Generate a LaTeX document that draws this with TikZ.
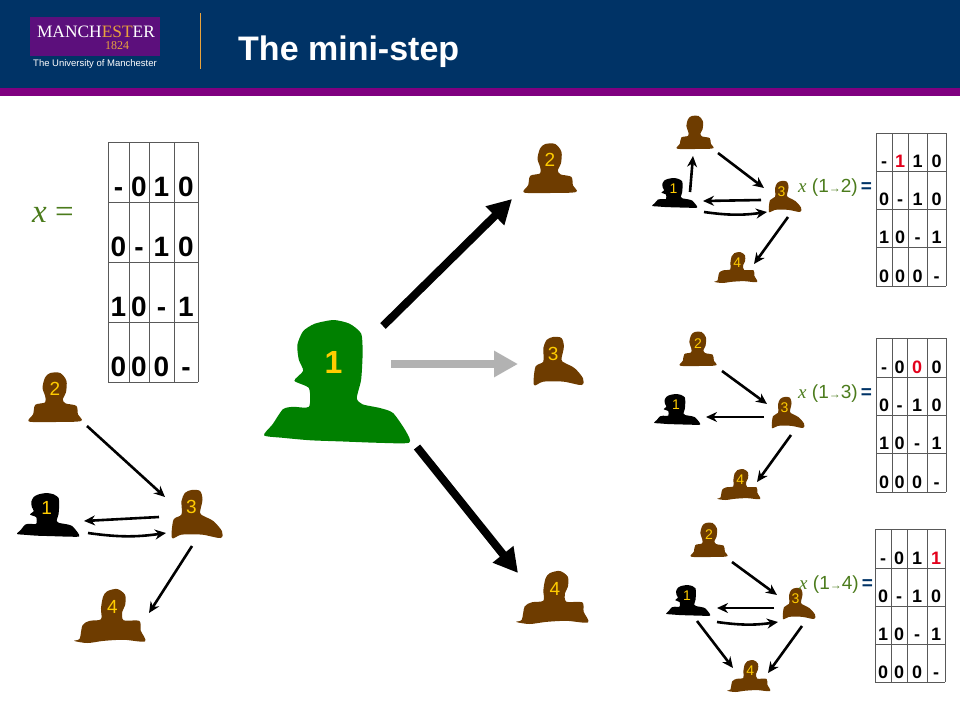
\documentclass[tikz,border=0pt]{standalone}
\usepackage{fontspec}
\setmainfont{Liberation Sans}
\newfontfamily\timesfont{Liberation Serif}
\usetikzlibrary{arrows.meta}
\usetikzlibrary{positioning}

\definecolor{navy}{HTML}{003366}
\definecolor{band}{HTML}{800080}
\definecolor{crest}{HTML}{5C0F7C}
\definecolor{gold}{HTML}{E8A33D}
\definecolor{digit}{HTML}{FFCC00}
\definecolor{skin}{HTML}{6E3C00}
\definecolor{leaf}{HTML}{008000}
\definecolor{olive}{HTML}{4B7B1C}
\definecolor{mark}{HTML}{E3001B}

\tikzset{
    thin arrow/.style={-{Stealth[length=11pt,width=10pt]}, line width=2.6pt},
    big arrow/.style={-{Triangle[length=24pt,width=25pt]}, line width=8pt},
    grid line/.style={draw=black!65, line width=1pt},
    cell/.style={anchor=base, inner sep=0pt, font=\bfseries},
    big digit/.style={text=digit, font=\bfseries\fontsize{32}{32}\selectfont},
    mid digit/.style={text=digit, font=\fontsize{19}{19}\selectfont},
    small digit/.style={text=digit, font=\fontsize{14}{14}\selectfont},
    rate/.style={anchor=base west, inner sep=0pt, text=olive}
}

% outlines on a 100 by 100 box, y going down
\def\shapeA{plot[smooth cycle,tension=.5] coordinates {(41,0) (60,0) (72,16) (71,40) (65,53) (70,62) (91,67) (94,84) (100,98) (50,100) (0,99) (8,84) (12,65) (31,60) (31,47) (26,30) (31,9)} (50,33) coordinate (head)}
\def\shapeB{plot[smooth cycle,tension=.5] coordinates {(39,0) (56,2) (61,20) (56,47) (63,54) (83,65) (100,86) (97,100) (60,93) (19,93) (0,100) (3,62) (19,51) (19,23) (26,6)} (39,35) coordinate (head)}
\def\shapeC{plot[smooth cycle,tension=.5] coordinates {(47,4) (61,0) (72,11) (72,30) (68,42) (70,58) (92,59) (94,77) (100,97) (70,94) (42,96) (19,100) (0,96) (8,92) (12,67) (22,59) (38,56) (38,36) (41,14)} (54,34) coordinate (head)}
\def\shapeD{plot[smooth cycle,tension=.4] coordinates {(48,0) (59,3) (67,11) (68,27) (67,48) (64,63) (68,68) (80,71) (89,75) (98,90) (100,99) (78,99) (55,98) (32,97) (13,95) (0,93) (6,84) (13,72) (20,70) (31,70) (31,55) (21,49) (27,41) (24,32) (23,20) (27,9) (35,3)} (48,34) coordinate (head)}

% name, outline, left, top, width, height, colour, digit style, digit
\newcommand{\person}[9]{
    \begin{scope}[shift={(#3,#4)}, xscale=#5/100, yscale=#6/100]
        \fill[#7] #2;
    \end{scope}
    \node [anchor=north west, inner sep=0pt, outer sep=0pt,
        minimum width=#5pt, minimum height=#6pt] (#1) at (#3,#4) {};
    \node [#8] (#1-digit) at (head) {#9};
}

% name, x edges, y edges, font size, rows
\newcommand{\gridtab}[5]{
    \pgfmathsetmacro{\gridtop}{{#3}[0]}
    \pgfmathsetmacro{\gridbottom}{{#3}[4]}
    \pgfmathsetmacro{\gridleft}{{#2}[0]}
    \pgfmathsetmacro{\gridright}{{#2}[4]}
    \foreach \xv in {#2} \draw[grid line] (\xv,\gridtop) -- (\xv,\gridbottom);
    \foreach \yv in {#3} \draw[grid line] (\gridleft,\yv) -- (\gridright,\yv);
    \foreach \row [count=\j] in {#5} {
        \foreach \entry [count=\i] in \row {
            \pgfmathsetmacro{\xa}{{#2}[\i-1]}
            \pgfmathsetmacro{\xb}{{#2}[\i]}
            \pgfmathsetmacro{\ya}{{#3}[\j-1]}
            \pgfmathsetmacro{\yb}{{#3}[\j]}
            \pgfmathsetmacro{\cx}{(\xa+\xb)/2}
            \pgfmathsetmacro{\cy}{\yb-0.09*(\yb-\ya)}
            \node [cell, font=\bfseries\fontsize{#4}{#4}\selectfont] (#1-\j-\i) at (\cx,\cy) {\entry};
        }
    }
}

\newcommand{\ratelabel}[1]{{\timesfont\itshape x} (1{\fontsize{12}{12}\selectfont →}#1)\,\textcolor{navy}{\bfseries =}}

\begin{document}
\begin{tikzpicture}[x=1pt, y=-1pt]
    \useasboundingbox (0,0) rectangle (960,720);

    % header
    \fill[navy] (0,0) rectangle (960,88);
    \fill[band] (0,88) rectangle (960,96);
    \node [draw=none, fill=crest, anchor=north west, inner sep=0pt, minimum width=130pt, minimum height=39pt] (logo) at (30,17) {};
    \node [anchor=base, inner sep=0pt, text=white, font=\timesfont\fontsize{17.4}{17.4}\selectfont] (manchester) at (96,37) {MANCH\textcolor{gold}{EST}ER};
    \node [anchor=base, inner sep=0pt, text=gold, font=\timesfont\fontsize{12}{12}\selectfont] (year) at (117,49) {1824};
    \node [anchor=base west, inner sep=0pt, text=white, font=\fontsize{9.5}{9.5}\selectfont] (university) at (33,66) {The University of Manchester};
    \draw[gold, line width=.8pt] (200,13) -- (200,69);
    \node [anchor=base west, inner sep=0pt, text=white, font=\bfseries\fontsize{34}{34}\selectfont] (title) at (238,60) {The mini-step};

    % left matrix
    \node [anchor=base west, inner sep=0pt, text=olive, font=\timesfont\fontsize{33}{33}\selectfont] (xeq) at (32,222) {\textit{x} =};
    \gridtab{mx}{108,129,149,174,198}{142,202,262,322,382}{28}{{-,0,1,0},{0,-,1,0},{1,0,-,1},{0,0,0,-}}

    % left network
    \person{l1}{\shapeD}{17}{493}{62}{44}{black}{mid digit}{1}
    \person{l2}{\shapeA}{29}{373}{52}{49}{skin}{mid digit}{2}
    \person{l3}{\shapeB}{172}{490}{50}{48}{skin}{mid digit}{3}
    \person{l4}{\shapeC}{74}{589}{71}{54}{skin}{mid digit}{4}
    \draw[thin arrow] ([shift={(6,4)}]l2.south east) -- ([shift={(-7,7)}]l3.north west);
    \draw[thin arrow] ([shift={(-13,3)}]l3.west) -- ([shift={(5,6)}]l1.east);
    \draw[thin arrow] ([shift={(9,18)}]l1.east) to[bend right=8] ([shift={(-6,19)}]l3.west);
    \draw[thin arrow] ([shift={(-5,8)}]l3.south) -- ([shift={(4,24)}]l4.north east);

    % middle
    \person{m1}{\shapeD}{264}{320}{145}{124}{leaf}{big digit}{1}
    \person{m2}{\shapeA}{524}{144}{52}{49}{skin}{mid digit}{2}
    \person{m3}{\shapeB}{534}{337}{49}{48}{skin}{mid digit}{3}
    \person{m4}{\shapeC}{516}{571}{72}{53}{skin}{mid digit}{4}
    \draw[big arrow] ([shift={(-26,6)}]m1.north east) -- ([shift={(-12,6)}]m2.south west);
    \draw[big arrow, color=black!30] ([shift={(-18,-18)}]m1.east) -- ([shift={(-16,3)}]m3.west);
    \draw[big arrow] ([shift={(8,3)}]m1.south east) -- ([shift={(2,2)}]m4.north west);

    % top network
    \person{t1}{\shapeD}{652}{178}{45}{30}{black}{small digit}{1}
    \person{t2}{\shapeA}{677}{116}{36}{33}{skin}{small digit}{}
    \person{t3}{\shapeB}{769}{181}{32}{31}{skin}{small digit}{3}
    \person{t4}{\shapeC}{714}{252}{43}{31}{skin}{small digit}{4}
    \draw[thin arrow] ([shift={(-7,14)}]t1.north east) -- ([shift={(-2,7)}]t2.south);
    \draw[thin arrow] ([shift={(5,4)}]t2.south east) -- ([shift={(-5,7)}]t3.north west);
    \draw[thin arrow] ([shift={(-8,3.5)}]t3.west) -- ([shift={(6,8)}]t1.east);
    \draw[thin arrow] ([shift={(7,4)}]t1.south east) to[bend right=8] ([shift={(-2,0)}]t3.south west);
    \draw[thin arrow] ([shift={(3,5)}]t3.south) -- ([shift={(-3,12)}]t4.north east);
    \node [rate, font=\fontsize{19}{19}\selectfont] (rt) at (798,192) {\ratelabel{2}};
    \gridtab{tt}{876,892,908,927,946}{133,171,209,247,286}{18}{{-,\textcolor{mark}{1},1,0},{0,-,1,0},{1,0,-,1},{0,0,0,-}}

    % centre network
    \person{c1}{\shapeD}{654}{394}{46}{31}{black}{small digit}{1}
    \person{c2}{\shapeA}{680}{332}{36}{34}{skin}{small digit}{2}
    \person{c3}{\shapeB}{772}{397}{32}{31}{skin}{small digit}{3}
    \person{c4}{\shapeC}{717}{469}{43}{31}{skin}{small digit}{4}
    \draw[thin arrow] ([shift={(6,5)}]c2.south east) -- ([shift={(-5,7)}]c3.north west);
    \draw[thin arrow] ([shift={(-8,4.5)}]c3.west) -- ([shift={(6,7.5)}]c1.east);
    \draw[thin arrow] ([shift={(3,7)}]c3.south) -- ([shift={(-3,13)}]c4.north east);
    \node [rate, font=\fontsize{19}{19}\selectfont] (rc) at (798,398) {\ratelabel{3}};
    \gridtab{tc}{876,892,907,927,946}{338,377,415,453,492}{18}{{-,0,\textcolor{mark}{0},0},{0,-,1,0},{1,0,-,1},{0,0,0,-}}

    % bottom network
    \person{b1}{\shapeD}{666}{585}{44}{31}{black}{small digit}{1}
    \person{b2}{\shapeA}{691}{523}{36}{34}{skin}{small digit}{2}
    \person{b3}{\shapeB}{783}{588}{32}{31}{skin}{small digit}{3}
    \person{b4}{\shapeC}{727}{660}{43}{32}{skin}{small digit}{4}
    \draw[thin arrow] ([shift={(5,5)}]b2.south east) -- ([shift={(-6,7)}]b3.north west);
    \draw[thin arrow] ([shift={(-9,4.5)}]b3.west) -- ([shift={(7,7.5)}]b1.east);
    \draw[thin arrow] ([shift={(7,6)}]b1.south east) to[bend right=8] ([shift={(-5,3)}]b3.south west);
    \draw[thin arrow] ([shift={(9,5)}]b1.south) -- ([shift={(6,8)}]b4.north west);
    \draw[thin arrow] ([shift={(3,7)}]b3.south) -- ([shift={(-2,13)}]b4.north east);
    \node [rate, font=\fontsize{19}{19}\selectfont] (rb) at (799,589) {\ratelabel{4}};
    \gridtab{tb}{875,891,907,927,945}{529,568,606,644,682}{18}{{-,0,1,\textcolor{mark}{1}},{0,-,1,0},{1,0,-,1},{0,0,0,-}}
\end{tikzpicture}
\end{document}
